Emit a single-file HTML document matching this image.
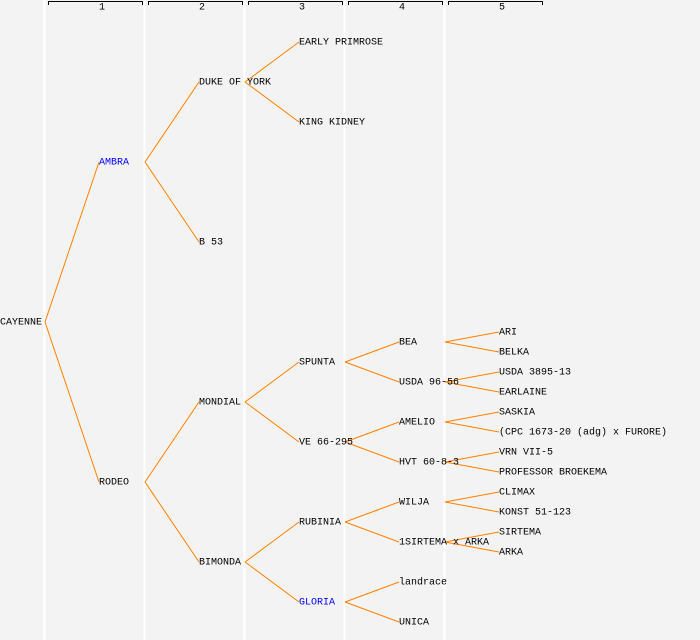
<!DOCTYPE html>
<html><head><style>
body{margin:0;background:#f3f3f3;}
svg{display:block}
text{font-family:"Liberation Mono",monospace;font-size:10px;fill:#000;dominant-baseline:central}
</style></head><body>
<svg width="700" height="640" xmlns="http://www.w3.org/2000/svg">
<rect width="700" height="640" fill="#f3f3f3"/>
<g stroke="#fff" stroke-width="2">
<line x1="44.5" y1="0" x2="44.5" y2="640"/><line x1="144.5" y1="0" x2="144.5" y2="640"/><line x1="244.5" y1="0" x2="244.5" y2="640"/><line x1="344.5" y1="0" x2="344.5" y2="640"/><line x1="444.5" y1="0" x2="444.5" y2="640"/>
</g>
<g stroke="#000" fill="none" stroke-width="1">
<path d="M48.5,5V1.5H142.5V5"/><path d="M148.5,5V1.5H242.5V5"/><path d="M248.5,5V1.5H342.5V5"/><path d="M348.5,5V1.5H442.5V5"/><path d="M448.5,5V1.5H542.5V5"/>
</g>
<g style="font-size:8px" text-anchor="middle">
<text x="102" y="8">1</text><text x="202" y="8">2</text><text x="302" y="8">3</text><text x="402" y="8">4</text><text x="502" y="8">5</text>
</g>
<g stroke="#ff8000" stroke-width="1" fill="none">
<path d="M45,322L99,162M45,322L99,482"/>
<path d="M145,162L199,82M145,162L199,242M145,482L199,402M145,482L199,562"/>
<path d="M245,82L299,42M245,82L299,122M245,402L299,362M245,402L299,442M245,562L299,522M245,562L299,602"/>
<path d="M345,362L399,342M345,362L399,382M345,442L399,422M345,442L399,462M345,522L399,502M345,522L399,542M345,602L399,582M345,602L399,622"/>
<path d="M445,342L499,332M445,342L499,352M445,382L499,372M445,382L499,392M445,422L499,412M445,422L499,432M445,462L499,452M445,462L499,472M445,502L499,492M445,502L499,512M445,542L499,532M445,542L499,552"/>
</g>
<g transform="translate(0,1)">
<text x="0" y="322">CAYENNE</text>
<text x="99" y="162" style="fill:#0000ff">AMBRA</text>
<text x="99" y="482">RODEO</text>
<text x="199" y="82">DUKE OF YORK</text>
<text x="199" y="242">B 53</text>
<text x="199" y="402">MONDIAL</text>
<text x="199" y="562">BIMONDA</text>
<text x="299" y="42">EARLY PRIMROSE</text>
<text x="299" y="122">KING KIDNEY</text>
<text x="299" y="362">SPUNTA</text>
<text x="299" y="442">VE 66-295</text>
<text x="299" y="522">RUBINIA</text>
<text x="299" y="602" style="fill:#0000ff">GLORIA</text>
<text x="399" y="342">BEA</text>
<text x="399" y="382">USDA 96-56</text>
<text x="399" y="422">AMELIO</text>
<text x="399" y="462">HVT 60-8-3</text>
<text x="399" y="502">WILJA</text>
<text x="399" y="542">1SIRTEMA x ARKA</text>
<text x="399" y="582">landrace</text>
<text x="399" y="622">UNICA</text>
<text x="499" y="332">ARI</text>
<text x="499" y="352">BELKA</text>
<text x="499" y="372">USDA 3895-13</text>
<text x="499" y="392">EARLAINE</text>
<text x="499" y="412">SASKIA</text>
<text x="499" y="432">(CPC 1673-20 (adg) x FURORE)</text>
<text x="499" y="452">VRN VII-5</text>
<text x="499" y="472">PROFESSOR BROEKEMA</text>
<text x="499" y="492">CLIMAX</text>
<text x="499" y="512">KONST 51-123</text>
<text x="499" y="532">SIRTEMA</text>
<text x="499" y="552">ARKA</text>
</g>
</svg>
</body></html>
